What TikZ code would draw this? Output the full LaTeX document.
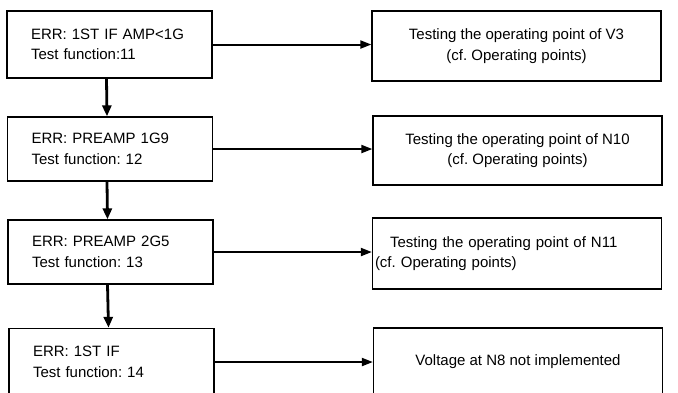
\documentclass[tikz,border=0pt]{standalone}
\usepackage{fontspec}
\setmainfont{Liberation Sans}
\frenchspacing
\usetikzlibrary{calc}
\usetikzlibrary{positioning}
\usetikzlibrary{arrows.meta}

\tikzset{
  errbox/.style={draw, line width=1.3pt, align=left, text width=157pt,
    inner xsep=24pt, minimum height=#1},
  opbox/.style={draw, line width=1.3pt, align=center, minimum width=289pt,
    minimum height=#1},
  seta/.style={line width=2pt, -{Triangle[length=11pt,width=8pt]}},
  setav/.style={line width=2.8pt, -{Triangle[length=11pt,width=9pt]}}
}

\begin{document}
\begin{tikzpicture}[x=1pt,y=-1pt,font=\fontsize{15}{20.5}\selectfont]
  \useasboundingbox (0,0) rectangle (678,392);
  \clip (0,0) rectangle (678,392);

  % Caixas da esquerda
  \node[errbox=67pt] (err1) at (109.5,44.5) {ERR: 1ST IF AMP<1G\\Test function:11};
  \node[errbox=64pt] (err2) at (110,149) {ERR: PREAMP 1G9\\Test function: 12};
  \node[errbox=64pt] (err3) at (110.5,252) {ERR: PREAMP 2G5\\Test function: 13};
  \node[errbox=67pt] (err4) at (111.5,362) {ERR: 1ST IF\\Test function: 14};

  % Caixas da direita
  \node[opbox=70pt] (op1) at (516.5,46) {Testing the operating point of V3\\(cf. Operating points)};
  \node[opbox=69pt] (op2) at (517.5,150.5) {Testing the operating point of N10\\(cf. Operating points)};
  \node[opbox=71pt, align=left, text width=284pt, inner xsep=2pt] (op3) at (517,253.5)
    {\hspace*{15pt}Testing the operating point of N11\\(cf. Operating points)};
  \node[opbox=67pt] (op4) at (518,361.5) {Voltage at N8 not implemented};

  % Setas verticais
  \draw[setav] ([xshift=-3pt]err1.south) -- ([xshift=-3pt]err2.north);
  \draw[setav] ([xshift=-3pt]err2.south) -- ([xshift=-3pt]err3.north);
  \draw[setav] ([xshift=-3pt]err3.south) -- ([xshift=-3pt]err4.north);

  % Setas horizontais
  \draw[seta] (err1.east) -- (err1.east -| op1.west);
  \draw[seta] (err2.east) -- (err2.east -| op2.west);
  \draw[seta] (err3.east) -- (err3.east -| op3.west);
  \draw[seta] (err4.east) -- (err4.east -| op4.west);
\end{tikzpicture}
\end{document}
